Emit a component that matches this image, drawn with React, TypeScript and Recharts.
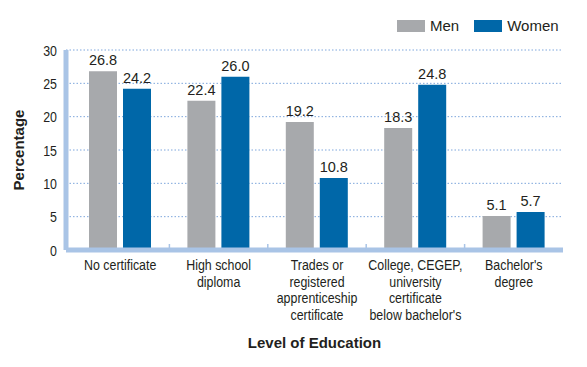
import { BarChart, Bar, XAxis, YAxis, CartesianGrid, LabelList } from "recharts";

const categories = [
  ["No certificate"],
  ["High school", "diploma"],
  ["Trades or", "registered", "apprenticeship", "certificate"],
  ["College, CEGEP,", "university", "certificate", "below bachelor's"],
  ["Bachelor's", "degree"],
];
const men = [26.8, 22.4, 19.2, 18.3, 5.1];
const women = [24.2, 26.0, 10.8, 24.8, 5.7];
const yTicks = [0, 5, 10, 15, 20, 25, 30];

const MEN_COLOR = "#a7a9ac";
const WOMEN_COLOR = "#0067a8";
const AXIS_COLOR = "#a9c4e6";
const SANS = "'Liberation Sans', Arial, sans-serif";
const SQUEEZE = 0.8;

const data = categories.map((lines, i) => ({
  name: lines.join(" "),
  men: men[i],
  women: women[i],
}));

function CategoryTick(props: any) {
  const { x, y, payload, index } = props;
  const lines = categories[index] || [];
  const off = payload.offset || 0;
  return (
    <g>
      {index < categories.length - 1 && (
        <line x1={x + off} x2={x + off} y1={y - 6} y2={y} stroke={AXIS_COLOR} strokeWidth={1.5} />
      )}
      <g transform={`translate(${x} ${y + 20}) scale(${SQUEEZE} 1)`}>
        <text x={0} y={0} textAnchor="middle" fill="#231f20" fontSize={15.5} fontFamily={SANS}>
          {lines.map((l, i) => (
            <tspan key={i} x={0} dy={i === 0 ? 0 : 16.7}>
              {l}
            </tspan>
          ))}
        </text>
      </g>
    </g>
  );
}

function ValueTick(props: any) {
  const { x, y, payload } = props;
  return (
    <g transform={`translate(${x} ${y}) scale(${SQUEEZE} 1)`}>
      <text x={0} y={0} dy={5.5} textAnchor="end" fill="#231f20" fontSize={15.5} fontFamily={SANS}>
        {payload.value}
      </text>
    </g>
  );
}

function Legend() {
  const items = [
    { label: "Men", color: MEN_COLOR },
    { label: "Women", color: WOMEN_COLOR },
  ];
  return (
    <div style={{ position: "absolute", left: 397, top: 17, display: "flex", fontFamily: SANS, fontSize: 15, color: "#231f20" }}>
      {items.map((it, i) => (
        <div key={i} style={{ display: "flex", alignItems: "center", marginRight: i === 0 ? 15 : 0 }}>
          <span style={{ display: "inline-block", width: 28, height: 12, background: it.color, marginRight: 5 }} />
          <span>{it.label}</span>
        </div>
      ))}
    </div>
  );
}

export default function App() {
  return (
    <div style={{ position: "absolute", left: 0, top: 0, width: 587, height: 367, background: "#fff" }}>
      <Legend />
      <BarChart
        width={587}
        height={367}
        data={data}
        margin={{ top: 50, right: 24, left: 0, bottom: 0 }}
        barSize={28}
        barGap={6}
      >
        <CartesianGrid vertical={false} stroke="#7ea6dc" strokeDasharray="1.5 2" />
        <XAxis
          dataKey="name"
          height={117}
          padding={{ left: 5, right: 0 }}
          axisLine={{ stroke: AXIS_COLOR, strokeWidth: 5 }}
          tickLine={false}
          tickSize={0}
          tickMargin={0}
          interval={0}
          tick={<CategoryTick />}
          label={{
            content: (p: any) => {
              const vb = p.viewBox;
              return (
                <text x={vb.x + vb.width / 2} y={348} textAnchor="middle" fontSize={15} fontWeight="bold" fill="#231f20" fontFamily={SANS}>
                  Level of Education
                </text>
              );
            },
          }}
        />
        <YAxis
          width={66}
          domain={[0, 30]}
          ticks={yTicks}
          axisLine={{ stroke: AXIS_COLOR, strokeWidth: 5 }}
          tickLine={false}
          tickMargin={3}
          tick={<ValueTick />}
          label={{
            content: (p: any) => {
              const vb = p.viewBox;
              const cy = vb.y + vb.height / 2;
              return (
                <text x={24} y={cy} transform={`rotate(-90 24 ${cy})`} textAnchor="middle" fontSize={15} fontWeight="bold" fill="#231f20" fontFamily={SANS}>
                  Percentage
                </text>
              );
            },
          }}
        />
        <Bar dataKey="men" fill={MEN_COLOR} isAnimationActive={false}>
          <LabelList dataKey="men" position="top" offset={6} fill="#231f20" fontSize={14.5} fontFamily={SANS} formatter={(v: any) => Number(v).toFixed(1)} />
        </Bar>
        <Bar dataKey="women" fill={WOMEN_COLOR} isAnimationActive={false}>
          <LabelList dataKey="women" position="top" offset={6} fill="#231f20" fontSize={14.5} fontFamily={SANS} formatter={(v: any) => Number(v).toFixed(1)} />
        </Bar>
      </BarChart>
    </div>
  );
}
